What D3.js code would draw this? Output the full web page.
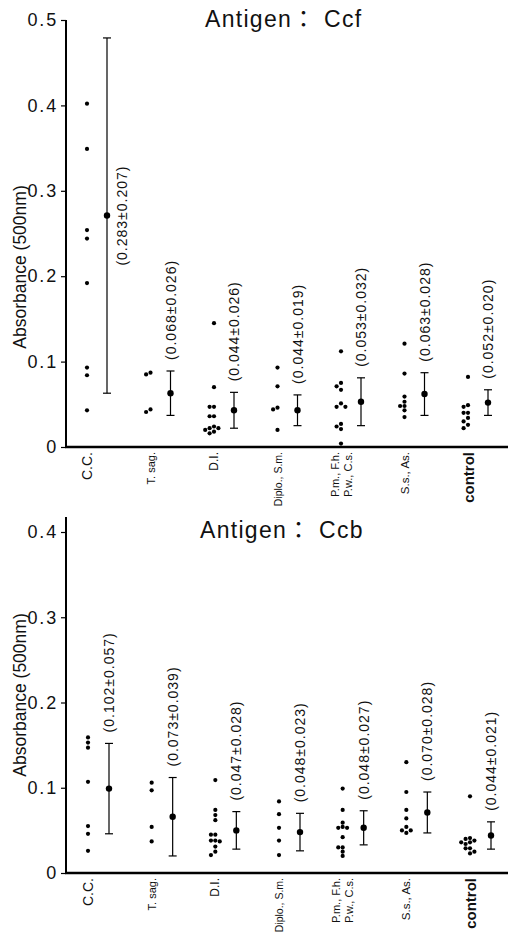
<!DOCTYPE html>
<html>
<head>
<meta charset="utf-8">
<script src="https://cdn.jsdelivr.net/npm/d3@7"></script>
<style>
  body { margin: 0; background: #fff; }
  svg { display: block; font-family: "Liberation Sans", Arial, "Noto Sans CJK JP", sans-serif; }
</style>
</head>
<body>
<div id="chart"></div>
<script>
// groups along the x axis (the P.m. group has a two line label)
const categories = ["C.C.", "T. sag.", "D.I.", "Diplo., S.m.", "P.m., F.h. / P.w., C.s.", "S.s., As.", "control"];
const categoryLines = [["C.C."], ["T. sag."], ["D.I."], ["Diplo., S.m."], ["P.m., F.h.", "P.w., C.s."], ["S.s., As."], ["control"]];
const categoryFontSize = [14, 11, 12, 10.5, 11, 11.5, 15];

// Antigen Ccf : single sera
const ccfPoints = [
  [0.402, 0.349, 0.254, 0.244, 0.192, 0.093, 0.084, 0.043],
  [0.087, 0.085, 0.044, 0.041],
  [0.145, 0.070, 0.047, 0.047, 0.036, 0.036, 0.024, 0.022, 0.022, 0.020, 0.018, 0.016],
  [0.093, 0.071, 0.046, 0.044, 0.020],
  [0.112, 0.075, 0.071, 0.067, 0.051, 0.047, 0.047, 0.027, 0.024, 0.021, 0.004],
  [0.121, 0.086, 0.059, 0.053, 0.048, 0.048, 0.043, 0.035],
  [0.082, 0.049, 0.047, 0.040, 0.040, 0.034, 0.030, 0.026, 0.022]
];
const ccfMean = [0.271, 0.063, 0.043, 0.043, 0.053, 0.062, 0.052];
const ccfSD = [0.208, 0.026, 0.021, 0.018, 0.028, 0.025, 0.015];
const ccfLabels = ["(0.283±0.207)", "(0.068±0.026)", "(0.044±0.026)", "(0.044±0.019)", "(0.053±0.032)", "(0.063±0.028)", "(0.052±0.020)"];

// Antigen Ccb
const ccbPoints = [
  [0.159, 0.153, 0.147, 0.107, 0.055, 0.046, 0.026],
  [0.106, 0.097, 0.054, 0.037],
  [0.109, 0.074, 0.068, 0.062, 0.045, 0.045, 0.038, 0.037, 0.038, 0.031, 0.025, 0.021],
  [0.084, 0.069, 0.053, 0.038, 0.021],
  [0.099, 0.074, 0.059, 0.053, 0.054, 0.053, 0.042, 0.030, 0.030, 0.025, 0.020],
  [0.130, 0.095, 0.074, 0.064, 0.054, 0.050, 0.050, 0.047],
  [0.090, 0.041, 0.040, 0.038, 0.036, 0.034, 0.036, 0.029, 0.029, 0.025, 0.023]
];
const ccbMean = [0.099, 0.066, 0.050, 0.048, 0.053, 0.071, 0.044];
const ccbSD = [0.053, 0.046, 0.022, 0.022, 0.020, 0.024, 0.016];
const ccbLabels = ["(0.102±0.057)", "(0.073±0.039)", "(0.047±0.028)", "(0.048±0.023)", "(0.048±0.027)", "(0.070±0.028)", "(0.044±0.021)"];

const ticksCcf = [0, 0.1, 0.2, 0.3, 0.4, 0.5];
const ticksCcb = [0, 0.1, 0.2, 0.3, 0.4];

const width = 508, height = 937;
const svg = d3.select("#chart").append("svg")
  .attr("width", width)
  .attr("height", height);

// spread overlapping dots sideways
function dodge(vals, y, cx) {
  const placed = [];
  vals.map(v => ({ v: v, y: y(v) }))
    .sort((a, b) => a.y - b.y)
    .forEach(p => {
      for (let k = 0; k < 20; k++) {
        const off = k === 0 ? 0 : (k % 2 ? -1 : 1) * Math.ceil(k / 2) * 4.4;
        if (placed.every(q => Math.hypot(q.x - (cx + off), q.y - p.y) >= 4.2)) { p.x = cx + off; break; }
      }
      placed.push(p);
    });
  return placed;
}

function drawPanel(o) {
  const g = svg.append("g");
  const y = d3.scaleLinear().domain([0, o.yMax]).range([o.y0, o.yTop]);
  const x = d3.scalePoint().domain(categories).range(o.xRange);

  // y axis
  const ax = g.append("g")
    .attr("transform", "translate(66,0)")
    .call(d3.axisLeft(y).tickValues(o.ticks).tickSize(5).tickPadding(3)
      .tickFormat(d => d === 0 ? "0" : d3.format(".1f")(d)));
  ax.select(".domain").remove();
  ax.selectAll(".tick line").attr("stroke", "#000").attr("stroke-width", 1.2);
  ax.selectAll(".tick text")
    .attr("fill", "#111")
    .style("font-size", "18px")
    .style("letter-spacing", "1.8px");

  g.append("line")
    .attr("x1", 66).attr("x2", 66)
    .attr("y1", y(0) + 1).attr("y2", o.yTop)
    .attr("stroke", "#000").attr("stroke-width", 2);
  g.append("line")
    .attr("x1", 65).attr("x2", width)
    .attr("y1", y(0)).attr("y2", y(0))
    .attr("stroke", "#000").attr("stroke-width", 2.5);

  g.append("text")
    .attr("transform", `translate(20,${o.labelY}) rotate(-90)`)
    .attr("text-anchor", "middle")
    .attr("dominant-baseline", "central")
    .style("font-size", "17.5px")
    .attr("fill", "#111")
    .text("Absorbance (500nm)");

  g.append("text")
    .attr("x", o.titleX).attr("y", o.titleY)
    .style("font-size", "23px")
    .style("letter-spacing", "1.3px")
    .attr("fill", "#111")
    .text(o.title);

  // group labels under the axis
  categoryLines.forEach((lines, i) => {
    lines.forEach((t, j) => {
      g.append("text")
        .attr("transform", `translate(${x(categories[i]) + (j - (lines.length - 1) / 2) * 13},${y(0) + 5}) rotate(-90)`)
        .attr("text-anchor", "end")
        .attr("dominant-baseline", "central")
        .style("font-size", categoryFontSize[i] + "px")
        .style("font-weight", categories[i] === "control" ? "bold" : "normal")
        .attr("fill", "#111")
        .text(t);
    });
  });

  categories.forEach((c, i) => {
    const cx = x(c);
    const bx = cx + o.barOffset;

    dodge(o.points[i], y, cx).forEach(p => {
      g.append("circle").attr("cx", p.x).attr("cy", p.y).attr("r", 2.1).attr("fill", "#000");
    });

    const lo = o.mean[i] - o.sd[i], hi = o.mean[i] + o.sd[i];
    g.append("line")
      .attr("x1", bx).attr("x2", bx).attr("y1", y(lo)).attr("y2", y(hi))
      .attr("stroke", "#000").attr("stroke-width", 1.2);
    [lo, hi].forEach(v => {
      g.append("line")
        .attr("x1", bx - 4).attr("x2", bx + 4).attr("y1", y(v)).attr("y2", y(v))
        .attr("stroke", "#000").attr("stroke-width", 1.2);
    });
    g.append("circle").attr("cx", bx).attr("cy", y(o.mean[i])).attr("r", 3.2).attr("fill", "#000");

    const lab = g.append("text")
      .attr("dominant-baseline", "central")
      .style("font-size", "14px")
      .style("letter-spacing", "1px")
      .attr("fill", "#111")
      .text(o.labels[i]);
    const len = lab.node().getComputedTextLength();
    const top = y(hi) - 11;
    if (top - len < o.yTop) {
      // not enough room above the bar: put it beside, centred on the mean
      lab.attr("text-anchor", "middle")
        .attr("transform", `translate(${bx + 15},${y(o.mean[i])}) rotate(-90)`);
    } else {
      lab.attr("text-anchor", "start")
        .attr("transform", `translate(${bx},${top}) rotate(-90)`);
    }
  });
}

drawPanel({
  title: "Antigen： Ccf", titleX: 205, titleY: 27,
  yMax: 0.5, y0: 447, yTop: 20, ticks: ticksCcf, labelY: 267,
  xRange: [87, 468], barOffset: 20,
  points: ccfPoints, mean: ccfMean, sd: ccfSD, labels: ccfLabels
});

drawPanel({
  title: "Antigen： Ccb", titleX: 200, titleY: 538,
  yMax: 0.4176, y0: 873, yTop: 517, ticks: ticksCcb, labelY: 695,
  xRange: [88, 470], barOffset: 21,
  points: ccbPoints, mean: ccbMean, sd: ccbSD, labels: ccbLabels
});
</script>
</body>
</html>
